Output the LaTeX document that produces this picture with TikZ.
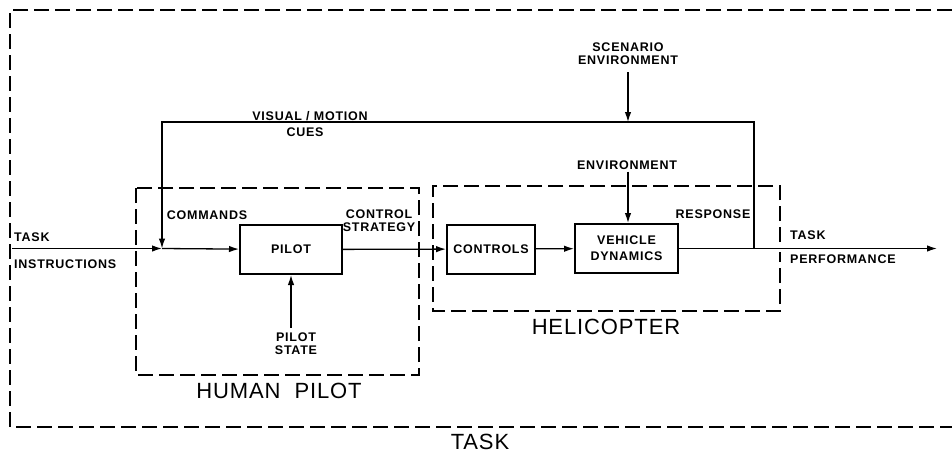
\documentclass[tikz,border=0pt]{standalone}
\usepackage{fontspec}
\setmainfont{Liberation Sans}
\newfontfamily\rotulo[LetterSpace=6]{Liberation Sans}
\newfontfamily\rotulogrande[LetterSpace=4]{Liberation Sans}
\usetikzlibrary{arrows.meta,positioning}

\begin{document}
\begin{tikzpicture}[x=1pt,y=-1pt,
		caja/.style={draw, line width=2pt, minimum height=49pt, inner sep=2pt, align=center, font=\rotulo\bfseries\fontsize{12.5}{16}\selectfont},
		etiqueta/.style={inner sep=2pt, align=center, font=\rotulo\bfseries\fontsize{12.5}{16}\selectfont},
		titulo/.style={inner sep=1pt, font=\rotulogrande\fontsize{22}{24}\selectfont},
		marco/.style={line width=1.8pt, dash pattern=on 15pt off 6pt},
		linea/.style={line width=1.3pt},
		flecha/.style={linea, -{Latex[length=10pt,width=6.5pt]}}]
			\useasboundingbox (0,0) rectangle (952,456);
			
			% Marco de la tarea
			\draw[marco] (952,10) -- (10,10) -- (10,427) -- (952,427);
			\node[titulo] (task) at (480,442) {TASK};
			
			% Piloto humano y helicoptero
			\draw[marco] (136,188) rectangle (419,375);
			\node[titulo] (human) at (279,391) {HUMAN\ \ PILOT};
			\draw[marco] (780,242) -- (780,186) -- (433,186) -- (433,311) -- (780,311) -- (780,252);
			\node[titulo] (heli) at (606,327) {HELICOPTER};
			
			% Bloques
			\node[caja, minimum width=102pt] (pilot) at (291,249.5) {PILOT};
			\node[caja, minimum width=88pt] (controls) at (491,249) {CONTROLS};
			\node[caja, minimum width=103pt] (vd) at (626.5,248.5) {VEHICLE\\DYNAMICS};
			
			% Textos
			\node[etiqueta, anchor=west] (tin1) at (12,237) {TASK};
			\node[etiqueta, anchor=west] (tin2) at (12,264) {INSTRUCTIONS};
			\node[etiqueta] (cmd) at (207,215) {COMMANDS};
			\node[etiqueta] (strat) at (379,221) {CONTROL\\[-3pt]STRATEGY};
			\node[etiqueta] (resp) at (713,214) {RESPONSE};
			\node[etiqueta] (vis) at (310,116) {VISUAL / MOTION};
			\node[etiqueta] (cues) at (305,132) {CUES};
			\node[etiqueta] (scen) at (628,54) {SCENARIO\\[-3pt]ENVIRONMENT};
			\node[etiqueta] (env) at (627,165) {ENVIRONMENT};
			\node[etiqueta] (pstate) at (296,344) {PILOT\\[-3pt]STATE};
			\node[etiqueta, anchor=west] (tout1) at (788,235) {TASK};
			\node[etiqueta, anchor=west] (tout2) at (788,259) {PERFORMANCE};
			
			% Puntos de union
			\coordinate (inicio) at (12,248.5);
			\coordinate (suma) at (162,248.5);
			\coordinate (retro) at (754,248.5);
			\coordinate (esquina) at (754,122);
			\coordinate (escen) at (628,122);
			\coordinate (salida) at (937,248.5);
			
			% Conexiones
			\draw[flecha] (inicio) -- (suma);
			\draw[flecha] (suma) -- (pilot);
			\draw[flecha] (pilot) -- (controls);
			\draw[flecha] (controls) -- (vd);
			\draw[linea] (vd) -- (retro);
			\draw[flecha] (retro) -- (salida);
			\draw[flecha] (retro) -- (esquina) -| (suma);
			\draw[flecha] ([yshift=-5pt]scen.south) -- (escen);
			\draw[flecha] (env.south -| escen) -- (escen |- vd.north);
			\draw[flecha] ([yshift=3pt]pstate.north -| pilot.south) -- (pilot.south);
		\end{tikzpicture}
\end{document}
